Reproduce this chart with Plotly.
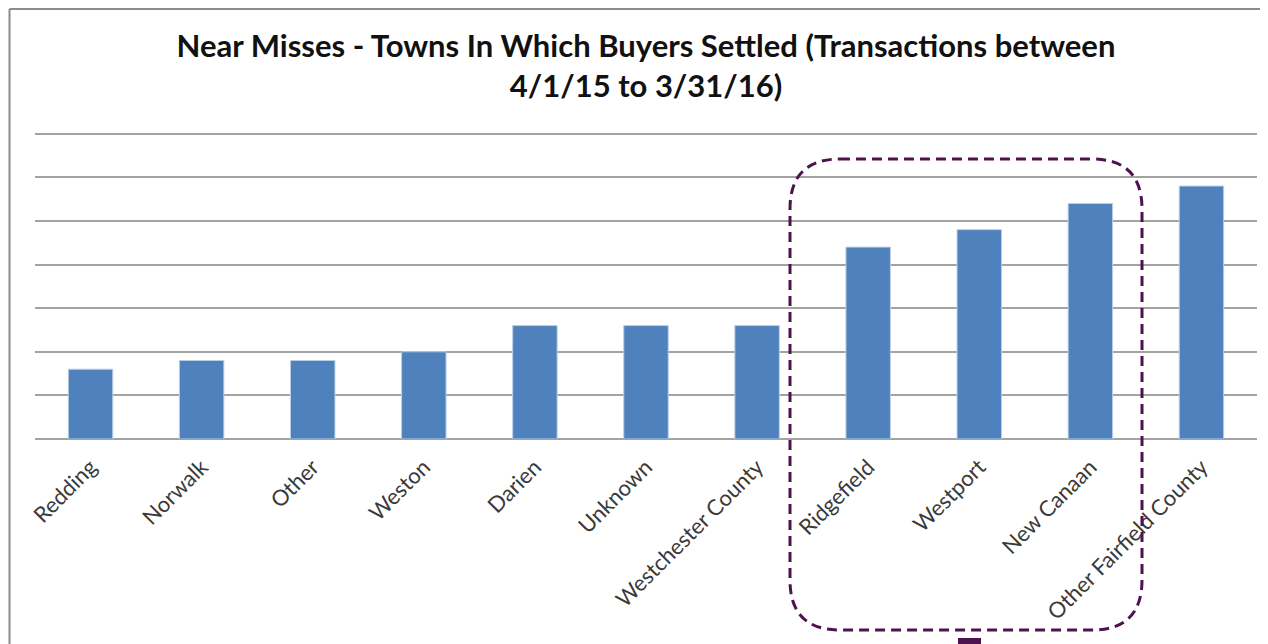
import plotly.graph_objects as go

# Data (counts of near-miss buyers by town)
towns = ["Redding", "Norwalk", "Other", "Weston", "Darien", "Unknown",
         "Westchester County", "Ridgefield", "Westport", "New Canaan",
         "Other Fairfield County"]
buyers = [8, 9, 9, 10, 13, 13, 13, 22, 24, 27, 29]

y_max = 36
y_step = 5

BAR_BLUE = "#4F81BD"
GRID = "#A3A3A3"
PURPLE = "#4E1250"

fig = go.Figure()

fig.add_trace(go.Bar(
    x=towns,
    y=buyers,
    marker=dict(color=BAR_BLUE, line=dict(color="#B9CDE5", width=1)),
    hovertemplate="<b>%{x}</b><br>Buyers: %{y}<extra></extra>",
))

# the page body adds an 8px margin on every side; keep the figure inside the window
OFF = 8
W, H = 1268 - OFF - 4, 644 - OFF
# plot area in page pixels: x 35..1257, y 125..439 (35 sits at y=134)
L, T = 35 - OFF, 125 - OFF
R = (OFF + W) - 1257
B = 644 - 439
pw = W - L - R
ph = H - T - B


def px_x(px):
    # page pixel -> paper x
    return (px - OFF - L) / pw


def px_y(py):
    # page pixel -> paper y
    return (H - B - (py - OFF)) / ph


# dashed rounded box around Ridgefield / Westport / New Canaan
x0, x1 = px_x(790), px_x(1142)
y0, y1 = px_y(630), px_y(159)
rx, ry = 50 / pw, 50 / ph
path = (f"M {x0 + rx},{y1} L {x1 - rx},{y1} Q {x1},{y1} {x1},{y1 - ry} "
        f"L {x1},{y0 + ry} Q {x1},{y0} {x1 - rx},{y0} "
        f"L {x0 + rx},{y0} Q {x0},{y0} {x0},{y0 + ry} "
        f"L {x0},{y1 - ry} Q {x0},{y1} {x0 + rx},{y1} Z")
fig.add_shape(type="path", path=path, xref="paper", yref="paper",
              line=dict(color=PURPLE, width=3, dash="10px,6px"), layer="above")

# small cut-off marker under the box
fig.add_shape(type="rect", xref="paper", yref="paper",
              x0=px_x(958), x1=px_x(981), y0=px_y(660), y1=px_y(638),
              fillcolor=PURPLE, line=dict(width=0))

# outer chart frame: only the left and top edges are visible
frame = dict(color="#8C8C8C", width=2)
fig.add_shape(type="line", xref="paper", yref="paper",
              x0=px_x(9.5), x1=px_x(9.5), y0=px_y(644), y1=px_y(9),
              line=frame, layer="below")
fig.add_shape(type="line", xref="paper", yref="paper",
              x0=px_x(9.5), x1=px_x(1268), y0=px_y(9), y1=px_y(9),
              line=frame, layer="below")

fig.update_layout(
    width=W, height=H,
    margin=dict(l=L, r=R, t=T, b=B, pad=0),
    paper_bgcolor="white",
    plot_bgcolor="white",
    showlegend=False,
    bargap=0.6,
    title=dict(
        text="Near Misses - Towns In Which Buyers Settled (Transactions between<br>4/1/15 to 3/31/16)",
        x=(646 - OFF) / W,
        xanchor="center",
        y=1 - 49 / H, yanchor="top",
        font=dict(family="Lato", size=31, color="#111111", weight="bold"),
    ),
    xaxis=dict(
        tickangle=-45,
        tickfont=dict(family="Lato", size=22, color="#3A3A3A"),
        ticklabelstandoff=10,
        showline=False, ticks="", showgrid=False, automargin=False,
    ),
    yaxis=dict(
        range=[0, y_max], dtick=y_step, showticklabels=False,
        showgrid=True, gridcolor=GRID, gridwidth=1.5,
        zeroline=True, zerolinecolor=GRID, zerolinewidth=1.5,
        showline=False, ticks="", automargin=False,
    ),
)

fig.write_html("out.html", config={"displayModeBar": False})
